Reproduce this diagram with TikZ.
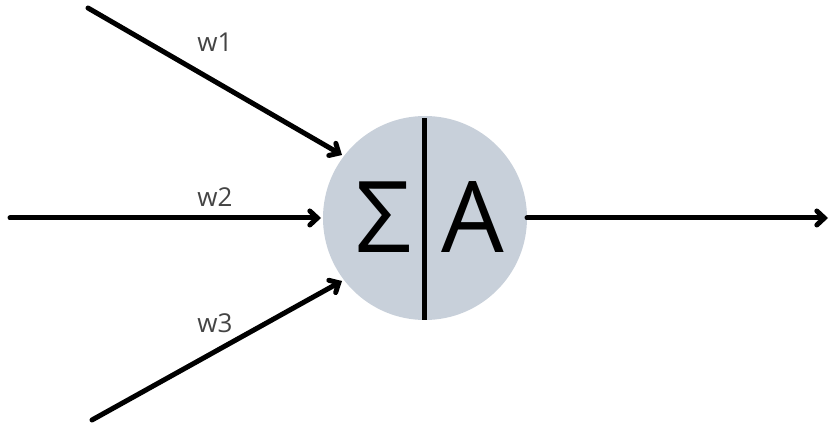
\documentclass[tikz,border=0pt]{standalone}
\usepackage{fontspec}
\setmainfont{Open Sans}
\usetikzlibrary{arrows.meta}
\definecolor{cellfill}{HTML}{C8D0DA}
\definecolor{labelgray}{HTML}{444444}
\begin{document}
\begin{tikzpicture}[x=1pt,y=-1pt,
  conn/.style={line width=5pt,line cap=round,-{Straight Barb[length=7.5pt,width=14pt,line cap=round]}},
  wlabel/.style={font=\fontsize{26}{28}\selectfont,text=labelgray,inner sep=0pt},
  big/.style={font=\fontsize{99}{100}\selectfont,inner sep=0pt}]
\useasboundingbox (0,0) rectangle (831,427);
\node[circle,fill=cellfill,minimum size=204pt,inner sep=0pt,outer sep=0pt] (n) at (425,218) {};
\draw[line width=5pt] (424,118) coordinate (vt) -- (424,320) coordinate (vb);
\node[big,anchor=base] (sig) at (384,253) {Σ};
\node[big,anchor=base] (act) at (473,253) {A};
\coordinate (i1) at (88,8);
\coordinate (i2) at (10,218);
\coordinate (i3) at (92,420);
\coordinate (t1) at (342,155);
\coordinate (t2) at (321,218);
\coordinate (t3) at (342,281);
\coordinate (o) at (828,218);
\draw[conn] (i1) -- (t1);
\draw[conn] (i2) -- (t2);
\draw[conn] (i3) -- (t3);
\draw[conn] (n.east) -- (o);
\node[wlabel] (l1) at (215,42) {w1};
\node[wlabel] (l2) at (215,197) {w2};
\node[wlabel] (l3) at (215,323) {w3};
\end{tikzpicture}
\end{document}
